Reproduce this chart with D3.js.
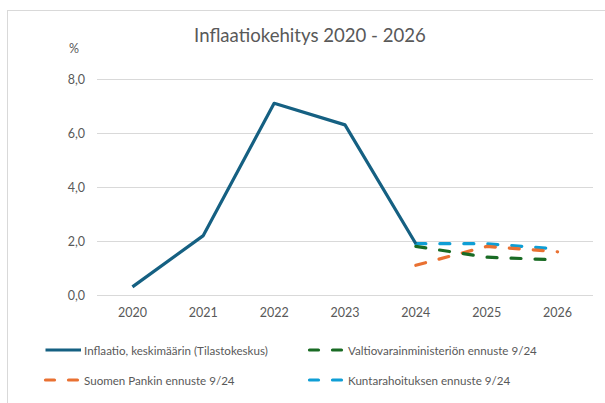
<!DOCTYPE html>
<html><head><meta charset="utf-8">
<script src="https://cdn.jsdelivr.net/npm/d3@7"></script>
<style>body{margin:0;background:#fff}svg{display:block}text{font-family:Lato,"Open Sans",sans-serif;fill:#595959}</style>
</head><body><div id="c"></div>
<script>
const years = ["2020","2021","2022","2023","2024","2025","2026"];
const inflation = [0.3, 2.2, 7.1, 6.3, 1.9, null, null];
const vm = [null, null, null, null, 1.8, 1.4, 1.3];
const spankki = [null, null, null, null, 1.1, 1.8, 1.6];
const kunta = [null, null, null, null, 1.9, 1.9, 1.7];
const yTicks = [0, 2, 4, 6, 8];
const seriesNames = ["Inflaatio, keskimäärin (Tilastokeskus)", "Valtiovarainministeriön ennuste 9/24", "Suomen Pankin ennuste 9/24", "Kuntarahoituksen ennuste 9/24"];
const title = "Inflaatiokehitys 2020 - 2026";

const W = 605, H = 403;
const svg = d3.select("#c").append("svg").attr("width", W).attr("height", H);
svg.append("rect").attr("x", 7.5).attr("y", 10.5).attr("width", 620).attr("height", 420)
  .attr("fill", "#fff").attr("stroke", "#d9d9d9").attr("stroke-width", 1);

const x = d3.scaleBand().domain(years).range([97, 593]);
const y = d3.scaleLinear().domain([0, 8]).range([295, 79]);
const fmt = d => d3.format(".1f")(d).replace(".", ",");

const yAxis = d3.axisLeft(y).tickValues(yTicks).tickSize(-(593 - 97)).tickFormat(fmt);
const gy = svg.append("g").attr("transform", "translate(97,0)").call(yAxis);
gy.select(".domain").remove();
gy.selectAll(".tick line").attr("stroke", "#d9d9d9").attr("stroke-width", 1);
gy.selectAll(".tick text").attr("x", -12).style("font-size", "12.5px").attr("fill", "#595959");

const xAxis = d3.axisBottom(x).tickSize(0);
const gx = svg.append("g").attr("transform", "translate(0,295)").call(xAxis);
gx.select(".domain").remove();
gx.selectAll(".tick text").attr("dy", 0).attr("y", 22).style("font-size", "12.5px").attr("fill", "#595959");

svg.append("text").attr("x", 74).attr("y", 53).attr("text-anchor", "middle").style("font-size", "12.5px").text("%");
svg.append("text").attr("x", 310).attr("y", 42).attr("text-anchor", "middle").style("font-size", "18.6px").text(title);

const line = d3.line().defined(d => d != null).x((d, i) => x(years[i]) + x.bandwidth() / 2).y(d => y(d));
const series = [
  {vals: inflation, color: "#156082", dash: null},
  {vals: vm, color: "#196B24", dash: "10,14"},
  {vals: spankki, color: "#E97132", dash: "10,14"},
  {vals: kunta, color: "#0F9ED5", dash: "10,14"}
];
[series[3], series[2], series[1], series[0]].forEach(s => {
  svg.append("path").datum(s.vals).attr("d", line).attr("fill", "none")
    .attr("stroke", s.color).attr("stroke-width", 3.2)
    .attr("stroke-linecap", s.dash ? "round" : "butt").attr("stroke-linejoin", "round")
    .attr("stroke-dasharray", s.dash);
});

const legendPos = [[44, 350], [308, 350], [44, 380], [308, 380]];
series.forEach((s, i) => {
  const [lx, ly] = legendPos[i];
  svg.append("line").attr("x1", lx + 1.5).attr("x2", lx + 37).attr("y1", ly).attr("y2", ly)
    .attr("stroke", s.color).attr("stroke-width", 3.2)
    .attr("stroke-linecap", s.dash ? "round" : "butt")
    .attr("stroke-dasharray", s.dash ? "9,14" : null);
  svg.append("text").attr("x", lx + 40).attr("y", ly + 4.5).style("font-size", "11.6px").text(seriesNames[i]);
});
</script></body></html>
